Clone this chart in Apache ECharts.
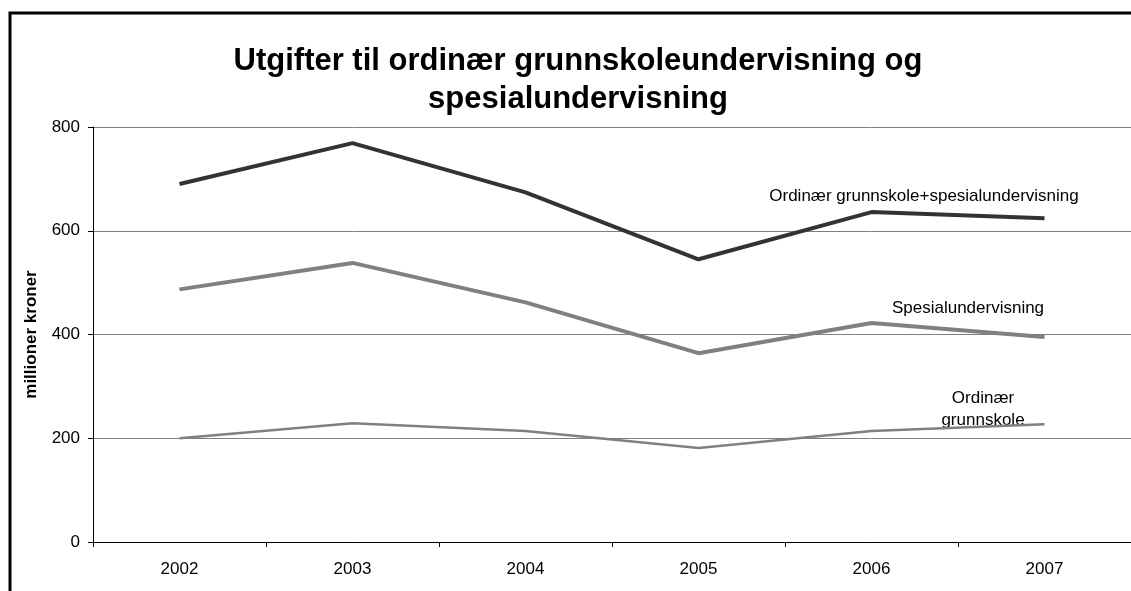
<!DOCTYPE html>
<html><head><meta charset="utf-8">
<script src="https://cdn.jsdelivr.net/npm/echarts@6/dist/echarts.min.js"></script>
<style>html,body{margin:0;padding:0;background:#fff;}#c{width:1131px;height:591px;}</style>
</head><body><div id="c"></div>
<script>
const categories = ['2002','2003','2004','2005','2006','2007'];
const totalSeries = [690, 769, 674, 545, 636, 624];
const specialSeries = [487, 538, 462, 364, 422, 395];
const ordinarySeries = [200, 229, 214, 181, 214, 227];
const yTicks = [0, 200, 400, 600, 800];
const titleText = 'Utgifter til ordinær grunnskoleundervisning og\nspesialundervisning';

const font = '"Liberation Sans", Arial, sans-serif';
const chart = echarts.init(document.getElementById('c'));
chart.setOption({
  backgroundColor: '#fff',
  animation: false,
  grid: {left: 93, top: 127, right: -5, bottom: 49},
  xAxis: {
    type: 'category', data: categories, boundaryGap: true,
    axisLine: {lineStyle: {color: '#000', width: 1}},
    axisTick: {show: true, length: 5, lineStyle: {color: '#000'}},
    axisLabel: {fontFamily: font, fontSize: 17, color: '#000', margin: 19}
  },
  yAxis: {
    type: 'value', min: yTicks[0], max: yTicks[yTicks.length-1], interval: 200,
    name: 'millioner kroner', nameLocation: 'middle', nameGap: 53,
    nameTextStyle: {fontFamily: font, fontSize: 17, fontWeight: 'bold', color: '#000'},
    axisLine: {show: true, lineStyle: {color: '#000'}},
    axisTick: {show: true, length: 5, lineStyle: {color: '#000'}},
    axisLabel: {fontFamily: font, fontSize: 17, color: '#000', margin: 13},
    splitLine: {lineStyle: {color: '#808080', width: 1}}
  },
  series: [
    {type: 'line', data: totalSeries, symbol: 'none', lineStyle: {color: '#333333', width: 4}, z: 3},
    {type: 'line', data: specialSeries, symbol: 'none', lineStyle: {color: '#808080', width: 4}, z: 2},
    {type: 'line', data: ordinarySeries, symbol: 'none', lineStyle: {color: '#808080', width: 2.5}, z: 2}
  ],
  graphic: [
    {type: 'rect', shape: {x: 10, y: 13, width: 1400, height: 800}, style: {fill: 'none', stroke: '#000', lineWidth: 3}, silent: true, z: 10},
    {type: 'text', x: 578, y: 42, style: {text: titleText, font: 'bold 31px ' + font, fill: '#000', textAlign: 'center', textVerticalAlign: 'top', lineHeight: 38}},
    {type: 'text', x: 924, y: 196, style: {text: 'Ordinær grunnskole+spesialundervisning', font: '17px ' + font, fill: '#000', textAlign: 'center', textVerticalAlign: 'middle'}},
    {type: 'text', x: 968, y: 308, style: {text: 'Spesialundervisning', font: '17px ' + font, fill: '#000', textAlign: 'center', textVerticalAlign: 'middle'}},
    {type: 'text', x: 983, y: 398, style: {text: 'Ordinær', font: '17px ' + font, fill: '#000', textAlign: 'center', textVerticalAlign: 'middle'}},
    {type: 'text', x: 983, y: 420, style: {text: 'grunnskole', font: '17px ' + font, fill: '#000', textAlign: 'center', textVerticalAlign: 'middle'}}
  ]
});
</script></body></html>
